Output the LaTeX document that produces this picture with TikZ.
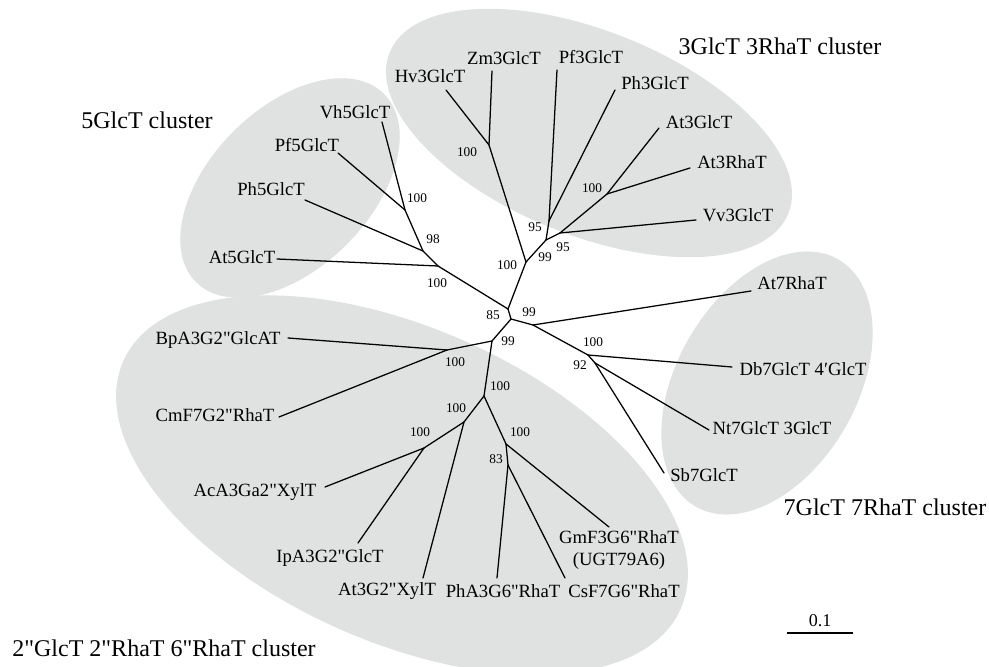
\documentclass[tikz,border=0pt]{standalone}
\usepackage{fontspec}
\setmainfont{Liberation Serif}[Ligatures=TeXOff]
\definecolor{clustergray}{RGB}{224,225,225}
\begin{document}
\begin{tikzpicture}[x=0.75pt,y=-0.75pt,
  branch/.style={line width=0.95pt, line cap=round, line join=round},
  leaf/.style={font=\fontsize{14}{16}\selectfont, inner sep=0pt},
  boot/.style={font=\fontsize{10}{12}\selectfont, inner sep=0pt},
  clusterlabel/.style={font=\fontsize{18}{21}\selectfont, inner sep=0pt},
  blob/.style={fill=clustergray}]
\useasboundingbox (0,0) rectangle (989,667);
\begin{scope}
\clip (0,0) rectangle (989,667);
% cluster ellipses
\fill[blob, rotate around={45:(290,188)}] (290,188) ellipse [x radius=99.75pt, y radius=60pt];
\fill[blob, rotate around={-22:(589,133)}] (589,133) ellipse [x radius=161.25pt, y radius=76.5pt];
\fill[blob, rotate around={60:(767,383)}] (767,383) ellipse [x radius=107pt, y radius=67.5pt];
\fill[blob, rotate around={-24:(402,485)}] (402,485) ellipse [x radius=228.75pt, y radius=117.75pt];
\end{scope}

% internal nodes
\coordinate (nA) at (508,309);
\coordinate (nB) at (511,319);
\coordinate (nC) at (526,262);
\coordinate (nD) at (438,266);
\coordinate (nE) at (533,325);
\coordinate (nG) at (492,341);
\coordinate (n5a) at (423,251);
\coordinate (n5b) at (405,210);
\coordinate (n3a) at (489,145);
\coordinate (n3b) at (546,240);
\coordinate (n3c) at (549,221);
\coordinate (n3d) at (560,233);
\coordinate (n3e) at (607,194);
\coordinate (n7a) at (588,355);
\coordinate (n7b) at (595,363);
\coordinate (n2a) at (447,350);
\coordinate (n2b) at (484,396);
\coordinate (n2c) at (464,422);
\coordinate (n2d) at (424,448);
\coordinate (n2e) at (506,444);
\coordinate (n2f) at (508,465);
% leaf tips
\coordinate (tAt5) at (277,259);
\coordinate (tPh5) at (305,200);
\coordinate (tPf5) at (338,153);
\coordinate (tVh5) at (382,122);
\coordinate (tHv3) at (446,90);
\coordinate (tZm3) at (492,71);
\coordinate (tPf3) at (557,70);
\coordinate (tPh3) at (615,90);
\coordinate (tAt3G) at (659,128);
\coordinate (tAt3R) at (690,168);
\coordinate (tVv3) at (696,220);
\coordinate (tAt7) at (751,291);
\coordinate (tDb7) at (732,367);
\coordinate (tNt7) at (709,430);
\coordinate (tSb7) at (664,473);
\coordinate (tBpA) at (288,338);
\coordinate (tCmF) at (279,417);
\coordinate (tAcA) at (325,487);
\coordinate (tIpA) at (358,543);
\coordinate (tAt3X) at (423,578);
\coordinate (tPhA) at (497,578);
\coordinate (tCsF) at (565,578);
\coordinate (tGmF) at (609,527);

% branches
\draw[branch] (nA) -- (nB);
\draw[branch] (nA) -- (nC);
\draw[branch] (nA) -- (nD);
\draw[branch] (nB) -- (nE);
\draw[branch] (nB) -- (nG);
% 5GlcT
\draw[branch] (nD) -- (tAt5);
\draw[branch] (nD) -- (n5a);
\draw[branch] (n5a) -- (tPh5);
\draw[branch] (n5a) -- (n5b);
\draw[branch] (n5b) -- (tPf5);
\draw[branch] (n5b) -- (tVh5);
% 3GlcT 3RhaT
\draw[branch] (nC) -- (n3a);
\draw[branch] (n3a) -- (tHv3);
\draw[branch] (n3a) -- (tZm3);
\draw[branch] (nC) -- (n3b);
\draw[branch] (n3b) -- (n3c);
\draw[branch] (n3c) -- (tPf3);
\draw[branch] (n3c) -- (tPh3);
\draw[branch] (n3b) -- (n3d);
\draw[branch] (n3d) -- (tVv3);
\draw[branch] (n3d) -- (n3e);
\draw[branch] (n3e) -- (tAt3G);
\draw[branch] (n3e) -- (tAt3R);
% 7GlcT 7RhaT
\draw[branch] (nE) -- (tAt7);
\draw[branch] (nE) -- (n7a);
\draw[branch] (n7a) -- (tDb7);
\draw[branch] (n7a) -- (n7b);
\draw[branch] (n7b) -- (tNt7);
\draw[branch] (n7b) -- (tSb7);
% 2" cluster
\draw[branch] (nG) -- (n2a);
\draw[branch] (n2a) -- (tBpA);
\draw[branch] (n2a) -- (tCmF);
\draw[branch] (nG) -- (n2b);
\draw[branch] (n2b) -- (n2c);
\draw[branch] (n2c) -- (n2d);
\draw[branch] (n2d) -- (tAcA);
\draw[branch] (n2d) -- (tIpA);
\draw[branch] (n2c) -- (tAt3X);
\draw[branch] (n2b) -- (n2e);
\draw[branch] (n2e) -- (tGmF);
\draw[branch] (n2e) -- (n2f);
\draw[branch] (n2f) -- (tPhA);
\draw[branch] (n2f) -- (tCsF);

% leaf labels
\node[leaf] (lVh5) at (355,112) {Vh5GlcT};
\node[leaf] (lPf5) at (307,145) {Pf5GlcT};
\node[leaf] (lPh5) at (271,189) {Ph5GlcT};
\node[leaf] (lAt5) at (242,257) {At5GlcT};
\node[leaf] (lHv3) at (430,76) {Hv3GlcT};
\node[leaf] (lZm3) at (504,58) {Zm3GlcT};
\node[leaf] (lPf3) at (591,57) {Pf3GlcT};
\node[leaf] (lPh3) at (655,83) {Ph3GlcT};
\node[leaf] (lAt3G) at (699,122) {At3GlcT};
\node[leaf] (lAt3R) at (732,162) {At3RhaT};
\node[leaf] (lVv3) at (738,215) {Vv3GlcT};
\node[leaf] (lAt7) at (792,283) {At7RhaT};
\node[leaf] (lDb7) at (803,369) {Db7GlcT 4′GlcT};
\node[leaf] (lNt7) at (772,428) {Nt7GlcT 3GlcT};
\node[leaf] (lSb7) at (704,475) {Sb7GlcT};
\node[leaf] (lBpA) at (218,340) {BpA3G2"GlcAT};
\node[leaf] (lCmF) at (215,415) {CmF7G2"RhaT};
\node[leaf] (lAcA) at (255,492) {AcA3Ga2"XylT};
\node[leaf] (lIpA) at (330,558) {IpA3G2"GlcT};
\node[leaf] (lAt3X) at (387,591) {At3G2"XylT};
\node[leaf] (lPhA) at (503,591) {PhA3G6"RhaT};
\node[leaf] (lCsF) at (624,591) {CsF7G6"RhaT};
\node[leaf, align=center] (lGmF) at (619,550) {GmF3G6"RhaT\\(UGT79A6)};

% bootstrap values
\node[boot] (b1) at (493,315) {85};
\node[boot] (b2) at (529,312) {99};
\node[boot] (b3) at (507,265) {100};
\node[boot] (b4) at (437,283) {100};
\node[boot] (b5) at (433,239) {98};
\node[boot] (b6) at (417,198) {100};
\node[boot] (b7) at (467,152) {100};
\node[boot] (b8) at (535,227) {95};
\node[boot] (b9) at (545,257) {99};
\node[boot] (b10) at (563,247) {95};
\node[boot] (b11) at (592,188) {100};
\node[boot] (b12) at (593,342) {100};
\node[boot] (b13) at (580,365) {92};
\node[boot] (b14) at (508,341) {99};
\node[boot] (b15) at (455,362) {100};
\node[boot] (b16) at (500,386) {100};
\node[boot] (b17) at (456,408) {100};
\node[boot] (b18) at (420,432) {100};
\node[boot] (b19) at (520,432) {100};
\node[boot] (b20) at (496,459) {83};

% cluster labels
\node[clusterlabel] (c5) at (147,120) {5GlcT cluster};
\node[clusterlabel] (c3) at (780,46) {3GlcT 3RhaT cluster};
\node[clusterlabel] (c7) at (885,507) {7GlcT 7RhaT cluster};
\node[clusterlabel] (c2) at (164,648) {2"GlcT 2"RhaT 6"RhaT cluster};

% scale bar
\coordinate (sL) at (787,633);
\coordinate (sR) at (853,633);
\draw[line width=1.6pt] (sL) -- (sR);
\node[font=\fontsize{13.5}{15}\selectfont, inner sep=0pt] (sLabel) at (820,621) {0.1};
\end{tikzpicture}
\end{document}
